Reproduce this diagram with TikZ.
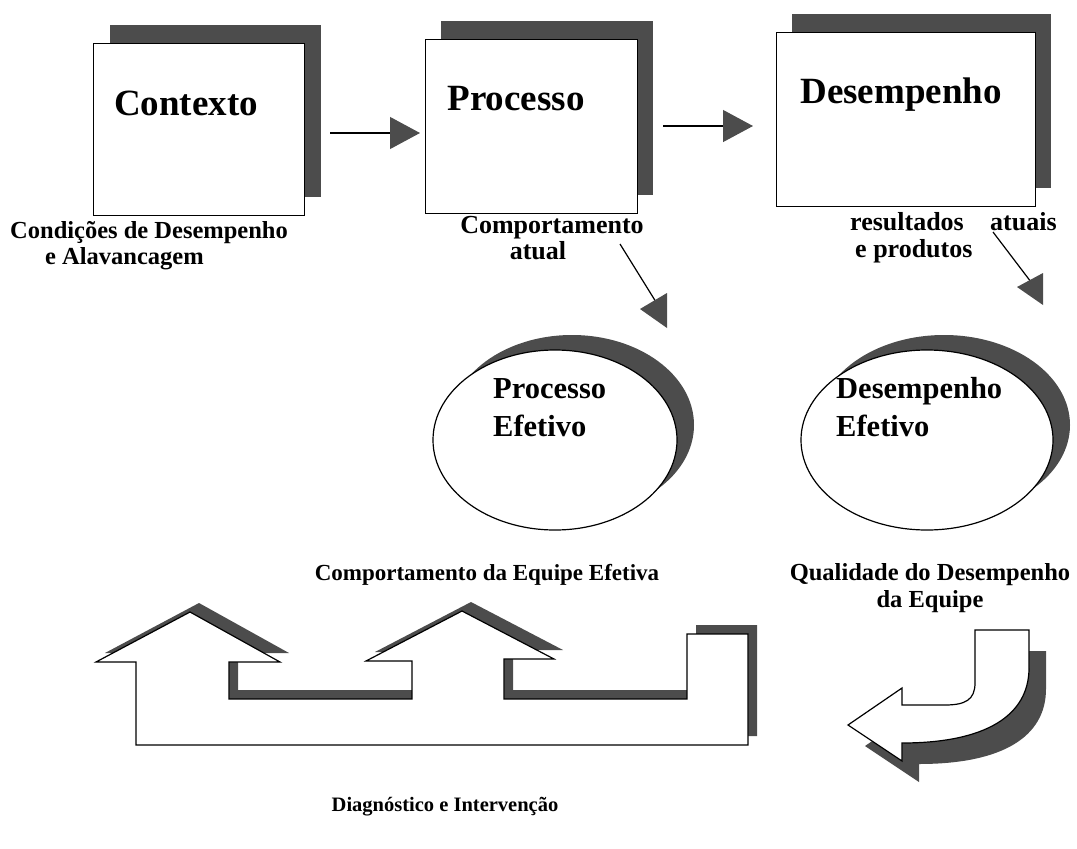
\documentclass[tikz,border=0pt]{standalone}
\usepackage{fontspec}
\setmainfont{Liberation Serif}
\usetikzlibrary{calc,arrows.meta,shapes.geometric}
\definecolor{shadowgray}{gray}{0.3}
\begin{document}
\begin{tikzpicture}[x=1pt,y=-1pt,
  frontbox/.style={draw=black,line width=1.2pt,fill=white,anchor=north west,inner sep=0pt},
  title/.style={font=\fontsize{37}{40}\selectfont\bfseries,anchor=base,inner sep=0pt},
  lab/.style={font=\fontsize{26}{28}\selectfont\bfseries,inner sep=0pt},
  ovaltext/.style={font=\fontsize{30.5}{34}\selectfont\bfseries,anchor=base west,inner sep=0pt},
  oval/.style={draw=black,line width=1.2pt,fill=white,ellipse,inner sep=0pt},
  conn/.style={line width=1.2pt,-{Triangle[length=30pt,width=32pt,color=shadowgray]}},
  wire/.style={line width=1.2pt},
  head/.style={fill=shadowgray,draw=none},
  track/.pic={\path[pic actions] (136,662) -- (96,662) -- (190,612) -- (280,662) -- (229,662)
      -- (229,699) -- (412,699) -- (412,661) -- (366,661) -- (462,611) -- (554,659)
      -- (504,659) -- (504,699) -- (687,699) -- (687,634) -- (748,634) -- (748,745)
      -- (136,745) -- cycle;},
  uturn/.pic={\path[pic actions] (975,630) -- (1029,630) -- (1029,668)
      .. controls (1029,716) and (985,743) .. (902,743) -- (902,761) -- (848,725)
      -- (902,688) -- (902,705) -- (945,705) .. controls (965,705) and (975,700) .. (975,683)
      -- cycle;}
]
\useasboundingbox (0,0) rectangle (1077,849);

% three boxes with their drop shadows
\fill[shadowgray] (110,25) rectangle (321,197);
\node[frontbox,minimum width=211pt,minimum height=172pt] (ctx) at (93,43) {};
\fill[shadowgray] (441,21) rectangle (653,195);
\node[frontbox,minimum width=212pt,minimum height=174pt] (proc) at (425,39) {};
\fill[shadowgray] (792,14) rectangle (1051,188);
\node[frontbox,minimum width=259pt,minimum height=174pt] (des) at (776,32) {};

\node[title] (ctxt) at (186,115) {Contexto};
\node[title] (proct) at (516,110) {Processo};
\node[title] (dest) at (901,103) {Desempenho};

% horizontal connectors
\coordinate (h1s) at (330,133);
\coordinate (h1e) at (420,133);
\coordinate (h2s) at (663,126);
\coordinate (h2e) at (753,126);
\draw[conn] (h1s) -- (h1e);
\draw[conn] (h2s) -- (h2e);

% labels under the boxes
\node[lab,anchor=base west,font=\fontsize{24.5}{26}\selectfont\bfseries] (cond1) at (10,238) {Condições de Desempenho};
\node[lab,anchor=base west,font=\fontsize{24.5}{26}\selectfont\bfseries] (cond2) at (45,264) {e Alavancagem};
\node[lab,anchor=base] (comp1) at (552,233) {Comportamento};
\node[lab,anchor=base] (comp2) at (538,259) {atual};
\node[lab,anchor=base west] (res1) at (850,230) {resultados};
\node[lab,anchor=base west] (res2) at (990,230) {atuais};
\node[lab,anchor=base west] (res3) at (855,257) {e produtos};

% slanted connectors
\coordinate (d1s) at (620,244);
\coordinate (d1e) at (656,302);
\draw[wire] (d1s) -- (d1e);
\fill[head] (640,309) -- (667,293) -- (667,328) -- cycle;
\coordinate (d2s) at (993,232);
\coordinate (d2e) at (1031,282);
\draw[wire] (d2s) -- (d2e);
\fill[head] (1017,287) -- (1043,273) -- (1043,305) -- cycle;

% ovals with their shadows
\fill[shadowgray] (572,425) ellipse [x radius=122, y radius=90];
\node[oval,minimum width=244pt,minimum height=180pt] (pe) at (555,440) {};
\fill[shadowgray] (944,425) ellipse [x radius=126, y radius=90];
\node[oval,minimum width=252pt,minimum height=180pt] (de) at (927,440) {};
\node[ovaltext] (pet1) at (493,398) {Processo};
\node[ovaltext] (pet2) at (493,436) {Efetivo};
\node[ovaltext] (det1) at (836,398) {Desempenho};
\node[ovaltext] (det2) at (836,436) {Efetivo};

\node[lab,anchor=base,font=\fontsize{23}{26}\selectfont\bfseries] (ceq) at (487,580) {Comportamento da Equipe Efetiva};
\node[lab,anchor=base,font=\fontsize{24.5}{26}\selectfont\bfseries] (qd1) at (930,580) {Qualidade do Desempenho};
\node[lab,anchor=base,font=\fontsize{24.5}{26}\selectfont\bfseries] (qd2) at (930,607) {da Equipe};

% feedback track and u-turn arrow
\pic[fill=shadowgray,draw=none] at (9,-9) {track};
\pic[fill=white,draw=black,line width=1.2pt] at (0,0) {track};
\pic[fill=shadowgray,draw=none] at (17,21) {uturn};
\pic[fill=white,draw=black,line width=1.2pt] at (0,0) {uturn};

\node[lab,anchor=base,font=\fontsize{20.5}{24}\selectfont\bfseries] (diag) at (445,811) {Diagnóstico e Intervenção};
\end{tikzpicture}
\end{document}
